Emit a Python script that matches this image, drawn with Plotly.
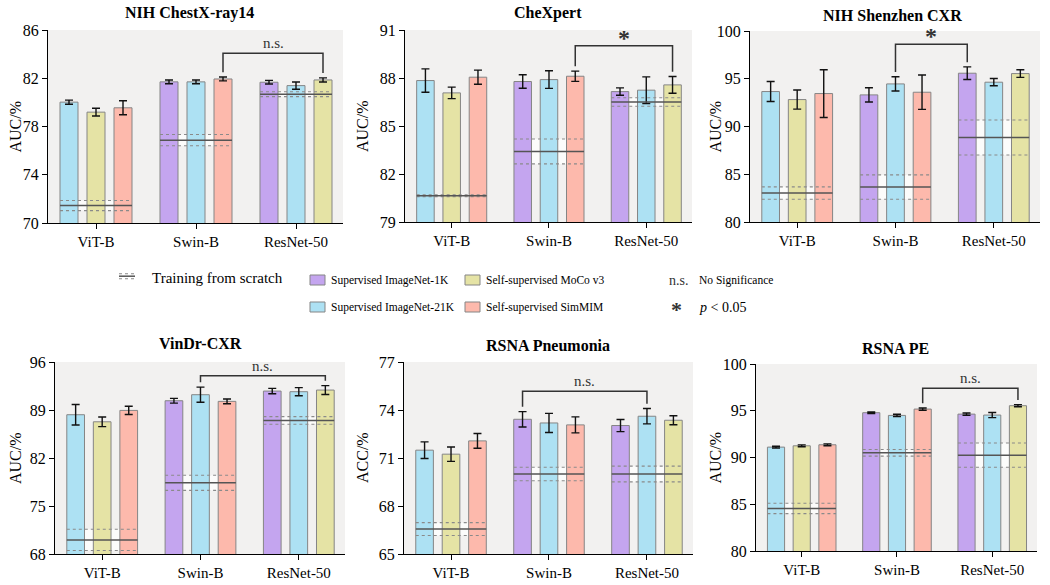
import plotly.graph_objects as go

# ---------------- data ----------------
groups = ["ViT-B", "Swin-B", "ResNet-50"]
group_methods = [["21K", "MoCo", "SimMIM"], ["1K", "21K", "SimMIM"], ["1K", "21K", "MoCo"]]

titles = ["NIH ChestX-ray14", "CheXpert", "NIH Shenzhen CXR", "VinDr-CXR", "RSNA Pneumonia", "RSNA PE"]
ylabels = ["AUC/%", "AUC/%", "AUC/%", "AUC/%", "ACC/%", "AUC/%"]
yranges = [(70, 86), (79, 91), (80, 100), (68, 96), (65, 77), (80, 100)]
yticks = [[70, 74, 78, 82, 86], [79, 82, 85, 88, 91], [80, 85, 90, 95, 100],
          [68, 75, 82, 89, 96], [65, 68, 71, 74, 77], [80, 85, 90, 95, 100]]

# values per panel: [ViT-B, Swin-B, ResNet-50] x 3 bars
nih_vals = [[80.02, 79.19, 79.55], [81.70, 81.70, 81.94], [81.67, 81.39, 81.86]]
nih_errs = [[0.17, 0.32, 0.58], [0.15, 0.15, 0.16], [0.15, 0.30, 0.17]]
nih_scratch = [71.45, 76.87, 80.68]
nih_scratch_err = [0.42, 0.47, 0.20]

chex_vals = [[87.84, 87.07, 88.05], [87.78, 87.90, 88.11], [87.15, 87.24, 87.57]]
chex_errs = [[0.73, 0.36, 0.44], [0.42, 0.55, 0.32], [0.23, 0.83, 0.52]]
chex_scratch = [80.64, 83.41, 86.50]
chex_scratch_err = [0.06, 0.78, 0.27]

shz_vals = [[93.66, 92.82, 93.45], [93.31, 94.46, 93.59], [95.58, 94.64, 95.54]]
shz_errs = [[1.05, 1.00, 2.50], [0.75, 0.75, 1.80], [0.66, 0.38, 0.40]]
shz_scratch = [83.03, 83.66, 88.85]
shz_scratch_err = [0.65, 1.27, 1.83]

vin_vals = [[88.31, 87.28, 88.94], [90.35, 91.23, 90.26], [91.76, 91.67, 91.91]]
vin_errs = [[1.50, 0.70, 0.60], [0.35, 1.10, 0.35], [0.40, 0.60, 0.65]]
vin_scratch = [70.05, 78.38, 87.48]
vin_scratch_err = [1.55, 1.10, 0.55]

pneu_vals = [[71.49, 71.24, 72.07], [73.42, 73.19, 73.07], [73.03, 73.61, 73.36]]
pneu_errs = [[0.52, 0.45, 0.46], [0.48, 0.60, 0.50], [0.38, 0.48, 0.28]]
pneu_scratch = [66.56, 70.00, 70.00]
pneu_scratch_err = [0.40, 0.42, 0.49]

pe_vals = [[91.11, 91.25, 91.36], [94.79, 94.50, 95.18], [94.64, 94.54, 95.54]]
pe_errs = [[0.10, 0.10, 0.10], [0.08, 0.12, 0.12], [0.12, 0.28, 0.12]]
pe_scratch = [84.55, 90.50, 90.25]
pe_scratch_err = [0.55, 0.35, 1.30]

# significance brackets: (group, bar) -> (group, bar), level, label
brackets = [((1, 2), (2, 2), 84.07, "n.s."),
            ((1, 2), (2, 2), 90.02, "*"),
            ((1, 1), (2, 0), 98.6, "*"),
            ((1, 1), (2, 2), 94.0, "n.s."),
            ((1, 0), (2, 1), 75.17, "n.s."),
            ((1, 2), (2, 2), 97.4, "n.s.")]

panels_vals = [nih_vals, chex_vals, shz_vals, vin_vals, pneu_vals, pe_vals]
panels_errs = [nih_errs, chex_errs, shz_errs, vin_errs, pneu_errs, pe_errs]
panels_scratch = [nih_scratch, chex_scratch, shz_scratch, vin_scratch, pneu_scratch, pe_scratch]
panels_scratch_err = [nih_scratch_err, chex_scratch_err, shz_scratch_err, vin_scratch_err,
                      pneu_scratch_err, pe_scratch_err]

method_names = {"1K": "Supervised ImageNet-1K", "21K": "Supervised ImageNet-21K",
                "MoCo": "Self-supervised MoCo v3", "SimMIM": "Self-supervised SimMIM"}

# ---------------- style ----------------
W, H = 1050, 585
colors = {"1K": "#C4A5EF", "21K": "#ADE1F3", "MoCo": "#E5E3A5", "SimMIM": "#FDB9AC"}
edge = "#858585"
offsets = [-0.27, 0.0, 0.27]
bar_w = 0.18
half_span = 0.36
FONT = "Liberation Serif, Times New Roman, serif"

# pixel boxes of plot areas: (left, right, top, bottom)
boxes = [(48, 343, 30, 223), (405, 692, 30, 222), (750, 1040, 31, 222),
         (55, 345, 362, 554), (404, 693, 362, 554), (756, 1037, 364, 551)]
ytitle_x = [15, 362, 715, 15, 362, 715]
title_y = [13, 13, 15, 343, 345, 348]
title_x = [189, 548, 892, 200, 548, 895]


def px(x):
    return x / W


def py(y):
    return 1 - y / H


fig = go.Figure()
annotations = []
shapes = []

for p in range(6):
    ax = "" if p == 0 else str(p + 1)
    xa, ya = "x" + ax, "y" + ax
    vals, errs = panels_vals[p], panels_errs[p]
    scr, scr_e = panels_scratch[p], panels_scratch_err[p]
    y0, y1 = yranges[p]

    # white band of scratch +- err (under bars)
    fig.add_trace(go.Bar(x=[0, 1, 2], y=[2 * e for e in scr_e],
                         base=[s - e for s, e in zip(scr, scr_e)],
                         width=half_span * 2, marker=dict(color="rgba(255,255,255,0.75)", line=dict(width=0)),
                         xaxis=xa, yaxis=ya, showlegend=False, hoverinfo="skip"))

    for m in ["1K", "21K", "MoCo", "SimMIM"]:
        xs, ys, es = [], [], []
        for g in range(3):
            for b in range(3):
                if group_methods[g][b] == m:
                    xs.append(g + offsets[b])
                    ys.append(vals[g][b])
                    es.append(errs[g][b])
        if not xs:
            continue
        fig.add_trace(go.Bar(x=xs, y=ys, width=bar_w, name=method_names[m],
                             marker=dict(color=colors[m], line=dict(color=edge, width=1)),
                             error_y=dict(type="data", array=es, color="#111111", thickness=1.4, width=4),
                             xaxis=xa, yaxis=ya, showlegend=False))

    # scratch lines
    lx, ly, ux, uy, dx, dy = [], [], [], [], [], []
    for g in range(3):
        lx += [g - half_span, g + half_span, None]
        ly += [scr[g], scr[g], None]
        ux += [g - half_span, g + half_span, None]
        uy += [scr[g] + scr_e[g], scr[g] + scr_e[g], None]
        dx += [g - half_span, g + half_span, None]
        dy += [scr[g] - scr_e[g], scr[g] - scr_e[g], None]
    for xx, yy, dash, col, wd in [(ux, uy, "dot", "#8a8a8a", 1.1), (dx, dy, "dot", "#8a8a8a", 1.1),
                                  (lx, ly, "solid", "#555555", 1.5)]:
        fig.add_trace(go.Scatter(x=xx, y=yy, mode="lines", line=dict(color=col, width=wd, dash=dash),
                                 xaxis=xa, yaxis=ya, showlegend=False, hoverinfo="skip"))

    # bracket
    (g1, b1), (g2, b2), level, label = brackets[p]
    gap = 0.025 * (y1 - y0)
    xb1, xb2 = g1 + offsets[b1], g2 + offsets[b2]
    yb1 = vals[g1][b1] + errs[g1][b1] + gap
    yb2 = vals[g2][b2] + errs[g2][b2] + gap
    fig.add_trace(go.Scatter(x=[xb1, xb1, xb2, xb2], y=[yb1, level, level, yb2], mode="lines",
                             line=dict(color="#333333", width=1.5), xaxis=xa, yaxis=ya,
                             showlegend=False, hoverinfo="skip"))
    if label == "*":
        annotations.append(dict(x=(xb1 + xb2) / 2, y=level, xref=xa, yref=ya, text="<b>*</b>",
                                showarrow=False, yshift=8, xanchor="center",
                                font=dict(family=FONT, size=24, color="#333333")))
    else:
        annotations.append(dict(x=(xb1 + xb2) / 2, y=level, xref=xa, yref=ya, text=label,
                                showarrow=False, yshift=10, xanchor="center",
                                font=dict(family=FONT, size=15, color="#333333")))

    L, R, T, B = boxes[p]
    fig.layout["xaxis" + ax] = dict(domain=[px(L), px(R)], range=[-0.48, 2.47], anchor=ya,
                                    tickvals=[0, 1, 2], ticktext=groups, showline=True,
                                    linecolor="black", linewidth=1.2, ticks="outside", ticklen=5,
                                    tickcolor="black", showgrid=False, zeroline=False, automargin=False,
                                    tickfont=dict(family=FONT, size=15, color="black"), fixedrange=True)
    fig.layout["yaxis" + ax] = dict(domain=[py(B), py(T)], range=[y0, y1], anchor=xa,
                                    tickvals=yticks[p], showline=True, linecolor="black", linewidth=1.2,
                                    ticks="outside", ticklen=5, tickcolor="black", showgrid=False,
                                    zeroline=False, automargin=False,
                                    tickfont=dict(family=FONT, size=16, color="black"),
                                    fixedrange=True)
    # plot background
    shapes.append(dict(type="rect", xref="paper", yref="paper", x0=px(L), x1=px(R), y0=py(B), y1=py(T),
                       fillcolor="#F2F1F0", line=dict(width=0), layer="below"))
    annotations.append(dict(x=px(title_x[p]), y=py(title_y[p]), xref="paper", yref="paper",
                            text="<b>%s</b>" % titles[p], showarrow=False, xanchor="center",
                            yanchor="middle", font=dict(family=FONT, size=16, color="black")))
    annotations.append(dict(x=px(ytitle_x[p]), y=py((T + B) / 2), xref="paper", yref="paper",
                            text=ylabels[p], showarrow=False, textangle=-90, xanchor="center",
                            yanchor="middle", font=dict(family=FONT, size=16, color="black")))

# ---------------- custom legend ----------------
for yy, dash, col, wd in [(273.7, "dot", "#8a8a8a", 1.1), (276.2, "solid", "#555555", 1.5),
                          (278.7, "dot", "#8a8a8a", 1.1)]:
    shapes.append(dict(type="line", xref="paper", yref="paper", x0=px(119), x1=px(135), y0=py(yy), y1=py(yy),
                       line=dict(color=col, width=wd, dash=dash)))
annotations.append(dict(x=px(150), y=py(277.5), xref="paper", yref="paper", text="Training from scratch",
                        showarrow=False, xanchor="left", yanchor="middle",
                        font=dict(family=FONT, size=15, color="black")))

leg_items = [("1K", 310, 280), ("21K", 310, 307), ("MoCo", 465, 280), ("SimMIM", 465, 307)]
for m, x0, yc in leg_items:
    shapes.append(dict(type="rect", xref="paper", yref="paper", x0=px(x0), x1=px(x0 + 15),
                       y0=py(yc + 5), y1=py(yc - 5), fillcolor=colors[m], line=dict(color=edge, width=1)))
    annotations.append(dict(x=px(x0 + 19), y=py(yc), xref="paper", yref="paper", text=method_names[m],
                            showarrow=False, xanchor="left", yanchor="middle",
                            font=dict(family=FONT, size=11.5, color="black")))

annotations.append(dict(x=px(667), y=py(280), xref="paper", yref="paper", text="n.s.", showarrow=False,
                        xanchor="left", yanchor="middle", font=dict(family=FONT, size=14, color="#333333")))
annotations.append(dict(x=px(697), y=py(280), xref="paper", yref="paper", text="No Significance",
                        showarrow=False, xanchor="left", yanchor="middle",
                        font=dict(family=FONT, size=11.5, color="black")))
annotations.append(dict(x=px(669), y=py(309), xref="paper", yref="paper", text="<b>*</b>", showarrow=False,
                        xanchor="left", yanchor="middle", font=dict(family=FONT, size=22, color="#333333")))
annotations.append(dict(x=px(697), y=py(307), xref="paper", yref="paper", text="<i>p</i> < 0.05",
                        showarrow=False, xanchor="left", yanchor="middle",
                        font=dict(family=FONT, size=14, color="black")))

fig.update_layout(width=W, height=H, autosize=False, margin=dict(l=0, r=0, t=0, b=0, pad=0),
                  paper_bgcolor="white", plot_bgcolor="rgba(0,0,0,0)", barmode="overlay",
                  showlegend=False, annotations=annotations, shapes=shapes,
                  font=dict(family=FONT, color="black"))

fig.write_html("out.html", config={"displayModeBar": False},
               post_script="document.body.style.margin='0';")
